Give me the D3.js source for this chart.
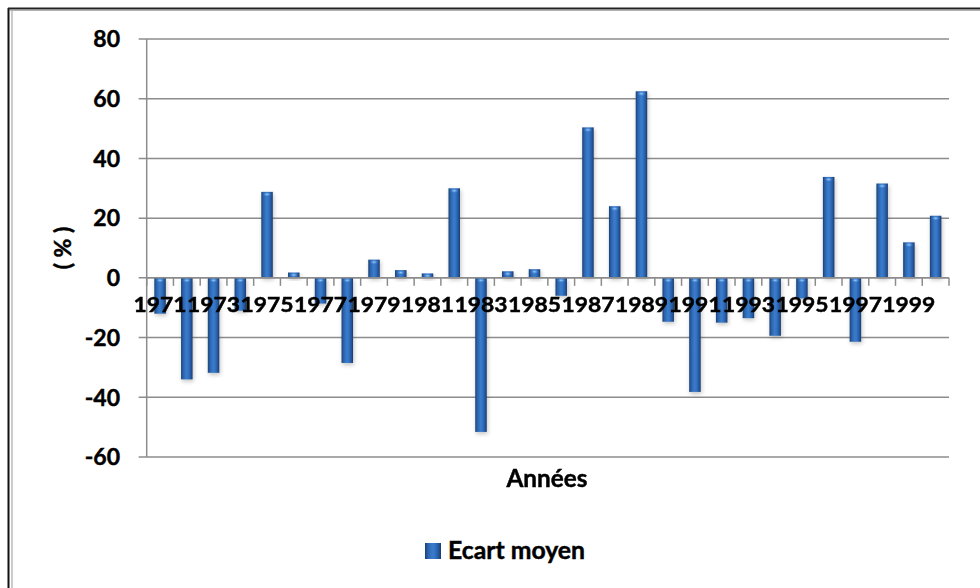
<!DOCTYPE html>
<html>
<head>
<meta charset="utf-8">
<script src="https://cdn.jsdelivr.net/npm/d3@7"></script>
<style>
  html, body { margin: 0; padding: 0; background: #fff; }
  svg { display: block; }
  text { font-family: Lato, "Open Sans", sans-serif; font-weight: bold; fill: #000; stroke: #000; stroke-width: 0.45px; }
</style>
</head>
<body>
<svg id="chart" width="980" height="588"></svg>
<script>
// Annual mean deviation (%), 1971–2000
const years = [1971, 1972, 1973, 1974, 1975, 1976, 1977, 1978, 1979, 1980,
               1981, 1982, 1983, 1984, 1985, 1986, 1987, 1988, 1989, 1990,
               1991, 1992, 1993, 1994, 1995, 1996, 1997, 1998, 1999, 2000];
const ecartMoyen = [-12, -34, -31.8, -11, 28.8, 1.8, -8.6, -28.5, 6.1, 2.6,
                    1.5, 30, -51.6, 2.2, 2.9, -6, 50.4, 24, 62.5, -14.7,
                    -38.2, -15, -13.5, -19.4, -6.9, 33.8, -21.4, 31.6, 11.9, 20.8];
const yTicks = [-60, -40, -20, 0, 20, 40, 60, 80];
const xLabelYears = years.filter((d, i) => i % 2 === 0);
const seriesName = "Ecart moyen";
const xTitle = "Années";
const yTitle = "( % )";

const svg = d3.select("#chart");
const W = 980, H = 588;
const plot = { left: 146.7, right: 949, top: 39, bottom: 457 };

// Frame around the chart area
svg.append("line").attr("x1", 8.5).attr("x2", 8.5).attr("y1", 8).attr("y2", H)
  .attr("stroke", "#111").attr("stroke-width", 2);
svg.append("line").attr("x1", 8).attr("x2", W).attr("y1", 8.5).attr("y2", 8.5)
  .attr("stroke", "#222").attr("stroke-width", 2);
svg.append("line").attr("x1", 12).attr("x2", 12).attr("y1", 10).attr("y2", H)
  .attr("stroke", "#9a9a9a").attr("stroke-width", 1);
svg.append("line").attr("x1", 10).attr("x2", W).attr("y1", 10.5).attr("y2", 10.5)
  .attr("stroke", "#b0b0b0").attr("stroke-width", 1);

const x = d3.scaleBand().domain(years).range([plot.left, plot.right]).paddingInner(0).paddingOuter(0);
const y = d3.scaleLinear().domain([-60, 80]).range([plot.bottom, plot.top]);

const defs = svg.append("defs");
const grad = defs.append("linearGradient").attr("id", "barGrad")
  .attr("x1", "0%").attr("x2", "100%").attr("y1", "0%").attr("y2", "0%");
[["0%", "#1a3f74"], ["18%", "#2b62aa"], ["45%", "#397bcc"], ["60%", "#3576c6"], ["85%", "#25579e"], ["100%", "#173a6c"]]
  .forEach(([o, c]) => grad.append("stop").attr("offset", o).attr("stop-color", c));
const cap = defs.append("radialGradient").attr("id", "capGrad");
cap.append("stop").attr("offset", "0%").attr("stop-color", "#9cd0ff");
cap.append("stop").attr("offset", "100%").attr("stop-color", "#3a7bd0").attr("stop-opacity", 0);
const shadow = defs.append("filter").attr("id", "shadow").attr("x", "-50%").attr("y", "-20%").attr("width", "200%").attr("height", "140%");
shadow.append("feGaussianBlur").attr("stdDeviation", 2.2);

// Gridlines and y tick marks
const gY = svg.append("g");
gY.selectAll("line.grid").data(yTicks).join("line")
  .attr("x1", plot.left - 8).attr("x2", plot.right)
  .attr("y1", d => y(d)).attr("y2", d => y(d))
  .attr("stroke", "#8c8c8c").attr("stroke-width", 1.5);
gY.selectAll("text").data(yTicks).join("text")
  .attr("x", 120).attr("y", d => y(d)).attr("dy", "0.36em")
  .attr("text-anchor", "end").attr("font-size", 23)
  .text(d => d);

// Vertical axis line
svg.append("line").attr("x1", plot.left).attr("x2", plot.left)
  .attr("y1", plot.top).attr("y2", plot.bottom)
  .attr("stroke", "#8c8c8c").attr("stroke-width", 1.5);

const bw = x.bandwidth() * 0.43;
const bx = d => x(d) + (x.bandwidth() - bw) / 2;

// Soft shadows under the bars
svg.append("g").attr("opacity", 0.35).selectAll("rect").data(years).join("rect")
  .attr("x", d => bx(d) + 1)
  .attr("y", (d, i) => Math.min(y(ecartMoyen[i]), y(0)) + 2)
  .attr("width", bw)
  .attr("height", (d, i) => Math.abs(y(ecartMoyen[i]) - y(0)))
  .attr("fill", "#555").attr("filter", "url(#shadow)");

// Bars
const bars = svg.append("g");
bars.selectAll("rect").data(years).join("rect")
  .attr("x", d => bx(d))
  .attr("y", (d, i) => Math.min(y(ecartMoyen[i]), y(0)))
  .attr("width", bw)
  .attr("height", (d, i) => Math.abs(y(ecartMoyen[i]) - y(0)))
  .attr("fill", "url(#barGrad)");
bars.selectAll("ellipse").data(years).join("ellipse")
  .attr("cx", d => bx(d) + bw / 2)
  .attr("cy", (d, i) => ecartMoyen[i] >= 0 ? y(ecartMoyen[i]) + 2.5 : y(0) + 2.5)
  .attr("rx", bw * 0.4).attr("ry", 2.5)
  .attr("fill", "url(#capGrad)");

// Horizontal axis with category ticks
const gX = svg.append("g");
gX.append("line").attr("x1", plot.left).attr("x2", plot.right)
  .attr("y1", y(0)).attr("y2", y(0)).attr("stroke", "#8c8c8c").attr("stroke-width", 1.5);
const tickPos = years.map(d => x(d)).concat([plot.right]);
gX.selectAll("line.tick").data(tickPos).join("line")
  .attr("x1", d => d).attr("x2", d => d)
  .attr("y1", y(0)).attr("y2", y(0) + 8)
  .attr("stroke", "#8c8c8c").attr("stroke-width", 1.5);
gX.selectAll("text").data(xLabelYears).join("text")
  .attr("x", d => x(d) + x.bandwidth() / 2).attr("y", y(0) + 34.5)
  .attr("text-anchor", "middle").attr("font-size", 21)
  .attr("textLength", 53).attr("lengthAdjust", "spacingAndGlyphs")
  .text(d => d);

// Axis titles
svg.append("text").attr("x", 547).attr("y", 487).attr("text-anchor", "middle")
  .attr("font-size", 24).attr("textLength", 81).attr("lengthAdjust", "spacingAndGlyphs").text(xTitle);
svg.append("text").attr("transform", `translate(71,${(plot.top + plot.bottom) / 2}) rotate(-90)`)
  .attr("text-anchor", "middle").attr("font-size", 23).text(yTitle);

// Legend
svg.append("rect").attr("x", 425).attr("y", 543).attr("width", 16).attr("height", 16)
  .attr("fill", "url(#barGrad)");
svg.append("text").attr("x", 448).attr("y", 559).attr("font-size", 24)
  .attr("textLength", 137).attr("lengthAdjust", "spacingAndGlyphs").text(seriesName);
</script>
</body>
</html>
